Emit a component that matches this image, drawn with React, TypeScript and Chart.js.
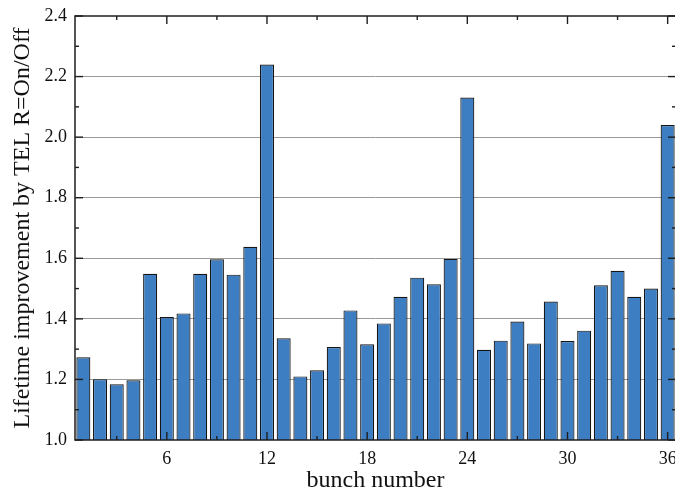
import React, { useEffect, useRef } from 'react';
import { Chart, registerables } from 'chart.js';

Chart.register(...registerables);

const bunchLabels = [
  '1', '2', '3', '4', '5', '6', '7', '8', '9', '10', '11', '12',
  '13', '14', '15', '16', '17', '18', '19', '20', '21', '22', '23', '24',
  '25', '26', '27', '28', '29', '30', '31', '32', '33', '34', '35', '36',
];

const improvement = [
  1.273, 1.201, 1.184, 1.197, 1.549, 1.406, 1.418, 1.549, 1.597, 1.546, 1.638, 2.240,
  1.336, 1.210, 1.230, 1.307, 1.428, 1.316, 1.385, 1.473, 1.536, 1.514, 1.598, 2.131,
  1.298, 1.328, 1.391, 1.319, 1.457, 1.327, 1.361, 1.511, 1.559, 1.473, 1.500, 2.040,
];

const xMajorTickLabels = ['6', '12', '18', '24', '30', '36'];
const xMinorTickLabels = ['3', '9', '15', '21', '27', '33'];
const yMajorTicks = [1.0, 1.2, 1.4, 1.6, 1.8, 2.0, 2.2, 2.4];
const yMinorTicks = [1.1, 1.3, 1.5, 1.7, 1.9, 2.1, 2.3];

const xTitle = 'bunch number';
const yTitle = 'Lifetime improvement by TEL R=On/Off';

const FONT = "'Liberation Serif', 'Times New Roman', serif";

const framePlugin = {
  id: 'originFrame',
  afterDatasetsDraw(chart: any) {
    const { ctx, chartArea } = chart;
    const { left, right, top, bottom } = chartArea;
    const xs = chart.scales.x;
    const ys = chart.scales.y;
    ctx.save();
    ctx.strokeStyle = '#1e1e1e';
    ctx.lineWidth = 1.5;
    ctx.strokeRect(left, top, right - left, bottom - top);
    ctx.lineWidth = 1.4;
    const tick = (x1: number, y1: number, x2: number, y2: number) => {
      ctx.beginPath();
      ctx.moveTo(x1, y1);
      ctx.lineTo(x2, y2);
      ctx.stroke();
    };
    const xPos = (lab: string) => xs.getPixelForValue(bunchLabels.indexOf(lab));
    xMajorTickLabels.forEach((l) => {
      const x = xPos(l);
      tick(x, bottom, x, bottom - 8);
      tick(x, top, x, top + 8);
    });
    xMinorTickLabels.forEach((l) => {
      const x = xPos(l);
      tick(x, bottom, x, bottom - 4);
      tick(x, top, x, top + 4);
    });
    yMajorTicks.forEach((v) => {
      const y = ys.getPixelForValue(v);
      tick(left, y, left + 8, y);
      tick(right, y, right - 8, y);
    });
    yMinorTicks.forEach((v) => {
      const y = ys.getPixelForValue(v);
      tick(left, y, left + 4, y);
      tick(right, y, right - 4, y);
    });
    ctx.restore();
  },
};

export default function App() {
  const ref = useRef<HTMLCanvasElement | null>(null);

  useEffect(() => {
    document.body.style.margin = '0';
    const canvas = ref.current;
    if (!canvas) return;
    const chart = new Chart(canvas, {
      type: 'bar',
      data: {
        labels: bunchLabels,
        datasets: [
          {
            data: improvement,
            backgroundColor: '#3d7dc1',
            borderColor: '#151515',
            borderWidth: 1.2,
            categoryPercentage: 1,
            barPercentage: 0.84,
          },
        ],
      },
      options: {
        responsive: false,
        animation: false,
        devicePixelRatio: 1,
        layout: { padding: { top: 16, right: 1, left: 0, bottom: 0 } },
        plugins: {
          legend: { display: false },
          tooltip: { enabled: false },
        },
        scales: {
          x: {
            type: 'category',
            grid: { display: false, drawTicks: false },
            border: { display: false },
            ticks: {
              autoSkip: false,
              maxRotation: 0,
              padding: 8,
              color: '#111',
              font: { family: FONT, size: 18 },
              callback: (_v: any, i: number) =>
                xMajorTickLabels.includes(bunchLabels[i]) ? bunchLabels[i] : '',
            },
            title: {
              display: true,
              text: xTitle,
              color: '#111',
              font: { family: FONT, size: 24 },
              padding: { top: 0, bottom: 1 },
            },
            afterFit: (s: any) => {
              s.height = 56;
              s.paddingLeft = 0;
              s.paddingRight = 0;
            },
          },
          y: {
            type: 'linear',
            min: 1.0,
            max: 2.4,
            grid: {
              drawTicks: false,
              lineWidth: 1,
              color: (c: any) => {
                const v = c.tick ? c.tick.value : 0;
                return Math.abs(v - 1.0) < 1e-6 || Math.abs(v - 2.4) < 1e-6
                  ? 'rgba(0,0,0,0)'
                  : '#9a9a9a';
              },
            },
            border: { display: false },
            ticks: {
              stepSize: 0.2,
              padding: 8,
              color: '#111',
              font: { family: FONT, size: 18 },
              callback: (v: any) => Number(v).toFixed(1),
            },
            title: {
              display: true,
              text: yTitle,
              color: '#111',
              font: { family: FONT, size: 24 },
              padding: { top: 8, bottom: 0 },
            },
            afterFit: (s: any) => {
              s.width = 75;
              s.paddingTop = 0;
              s.paddingBottom = 0;
            },
          },
        },
      },
      plugins: [framePlugin],
    });
    return () => chart.destroy();
  }, []);

  return (
    <div
      style={{
        position: 'fixed',
        left: 0,
        top: 0,
        width: 675,
        height: 496,
        overflow: 'hidden',
        background: '#fff',
      }}
    >
      <canvas ref={ref} width={677} height={496} style={{ display: 'block' }} />
    </div>
  );
}
